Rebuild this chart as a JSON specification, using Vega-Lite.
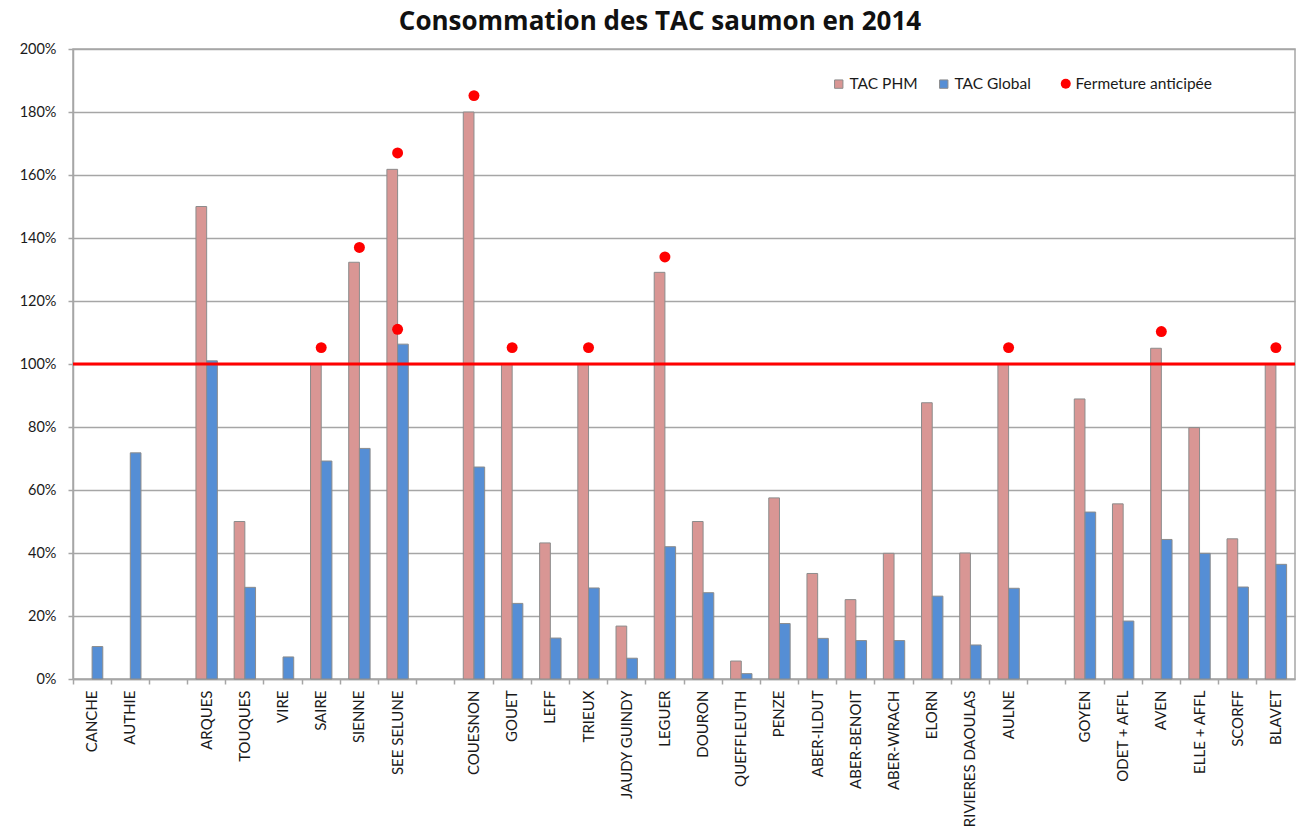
{
  "$schema": "https://vega.github.io/schema/vega-lite/v6.json",
  "width": 1222,
  "height": 630,
  "autosize": {"type": "none"},
  "padding": {"left": 73, "top": 49, "right": 7, "bottom": 152},
  "background": "white",
  "config": {
    "font": "Lato",
    "view": {"stroke": "#A6A6A6", "strokeWidth": 1.5}
  },
  "title": {
    "text": "Consommation des TAC saumon en 2014",
    "fontSize": 26,
    "fontWeight": "bold",
    "font": "Open Sans",
    "color": "#111111",
    "anchor": "middle",
    "frame": "group",
    "dx": -24,
    "offset": 6
  },
  "datasets": {
    "bars": [
      {"riviere": "CANCHE", "serie": "TAC Global", "valeur": 10.3},
      {"riviere": "AUTHIE", "serie": "TAC Global", "valeur": 71.8},
      {"riviere": "ARQUES", "serie": "TAC PHM", "valeur": 150},
      {"riviere": "ARQUES", "serie": "TAC Global", "valeur": 101},
      {"riviere": "TOUQUES", "serie": "TAC PHM", "valeur": 50},
      {"riviere": "TOUQUES", "serie": "TAC Global", "valeur": 29.1},
      {"riviere": "VIRE", "serie": "TAC Global", "valeur": 7},
      {"riviere": "SAIRE", "serie": "TAC PHM", "valeur": 100},
      {"riviere": "SAIRE", "serie": "TAC Global", "valeur": 69.2},
      {"riviere": "SIENNE", "serie": "TAC PHM", "valeur": 132.3},
      {"riviere": "SIENNE", "serie": "TAC Global", "valeur": 73.2},
      {"riviere": "SEE SELUNE", "serie": "TAC PHM", "valeur": 161.8},
      {"riviere": "SEE SELUNE", "serie": "TAC Global", "valeur": 106.3},
      {"riviere": "COUESNON", "serie": "TAC PHM", "valeur": 180},
      {"riviere": "COUESNON", "serie": "TAC Global", "valeur": 67.3},
      {"riviere": "GOUET", "serie": "TAC PHM", "valeur": 100},
      {"riviere": "GOUET", "serie": "TAC Global", "valeur": 24},
      {"riviere": "LEFF", "serie": "TAC PHM", "valeur": 43.2},
      {"riviere": "LEFF", "serie": "TAC Global", "valeur": 13},
      {"riviere": "TRIEUX", "serie": "TAC PHM", "valeur": 100},
      {"riviere": "TRIEUX", "serie": "TAC Global", "valeur": 28.9},
      {"riviere": "JAUDY GUINDY", "serie": "TAC PHM", "valeur": 16.8},
      {"riviere": "JAUDY GUINDY", "serie": "TAC Global", "valeur": 6.6},
      {"riviere": "LEGUER", "serie": "TAC PHM", "valeur": 129.1},
      {"riviere": "LEGUER", "serie": "TAC Global", "valeur": 42},
      {"riviere": "DOURON", "serie": "TAC PHM", "valeur": 50},
      {"riviere": "DOURON", "serie": "TAC Global", "valeur": 27.4},
      {"riviere": "QUEFFLEUTH", "serie": "TAC PHM", "valeur": 5.7},
      {"riviere": "QUEFFLEUTH", "serie": "TAC Global", "valeur": 1.7},
      {"riviere": "PENZE", "serie": "TAC PHM", "valeur": 57.5},
      {"riviere": "PENZE", "serie": "TAC Global", "valeur": 17.6},
      {"riviere": "ABER-ILDUT", "serie": "TAC PHM", "valeur": 33.5},
      {"riviere": "ABER-ILDUT", "serie": "TAC Global", "valeur": 12.9},
      {"riviere": "ABER-BENOIT", "serie": "TAC PHM", "valeur": 25.2},
      {"riviere": "ABER-BENOIT", "serie": "TAC Global", "valeur": 12.2},
      {"riviere": "ABER-WRACH", "serie": "TAC PHM", "valeur": 39.9},
      {"riviere": "ABER-WRACH", "serie": "TAC Global", "valeur": 12.2},
      {"riviere": "ELORN", "serie": "TAC PHM", "valeur": 87.7},
      {"riviere": "ELORN", "serie": "TAC Global", "valeur": 26.3},
      {"riviere": "RIVIERES DAOULAS", "serie": "TAC PHM", "valeur": 40},
      {"riviere": "RIVIERES DAOULAS", "serie": "TAC Global", "valeur": 10.8},
      {"riviere": "AULNE", "serie": "TAC PHM", "valeur": 100},
      {"riviere": "AULNE", "serie": "TAC Global", "valeur": 28.8},
      {"riviere": "GOYEN", "serie": "TAC PHM", "valeur": 88.9},
      {"riviere": "GOYEN", "serie": "TAC Global", "valeur": 53},
      {"riviere": "ODET + AFFL", "serie": "TAC PHM", "valeur": 55.6},
      {"riviere": "ODET + AFFL", "serie": "TAC Global", "valeur": 18.4},
      {"riviere": "AVEN", "serie": "TAC PHM", "valeur": 105},
      {"riviere": "AVEN", "serie": "TAC Global", "valeur": 44.3},
      {"riviere": "ELLE + AFFL", "serie": "TAC PHM", "valeur": 79.8},
      {"riviere": "ELLE + AFFL", "serie": "TAC Global", "valeur": 39.9},
      {"riviere": "SCORFF", "serie": "TAC PHM", "valeur": 44.5},
      {"riviere": "SCORFF", "serie": "TAC Global", "valeur": 29.2},
      {"riviere": "BLAVET", "serie": "TAC PHM", "valeur": 100},
      {"riviere": "BLAVET", "serie": "TAC Global", "valeur": 36.4}
    ],
    "fermetures": [
      {"riviere": "SAIRE", "serie": "Fermeture anticipée", "valeur": 105.2},
      {"riviere": "SIENNE", "serie": "Fermeture anticipée", "valeur": 137},
      {"riviere": "SEE SELUNE", "serie": "Fermeture anticipée", "valeur": 167},
      {"riviere": "SEE SELUNE", "serie": "Fermeture anticipée", "valeur": 111},
      {"riviere": "COUESNON", "serie": "Fermeture anticipée", "valeur": 185.2},
      {"riviere": "GOUET", "serie": "Fermeture anticipée", "valeur": 105.2},
      {"riviere": "TRIEUX", "serie": "Fermeture anticipée", "valeur": 105.2},
      {"riviere": "LEGUER", "serie": "Fermeture anticipée", "valeur": 134},
      {"riviere": "AULNE", "serie": "Fermeture anticipée", "valeur": 105.2},
      {"riviere": "AVEN", "serie": "Fermeture anticipée", "valeur": 110.3},
      {"riviere": "BLAVET", "serie": "Fermeture anticipée", "valeur": 105.2}
    ]
  },
  "layer": [
    {
      "data": {"name": "bars"},
      "mark": {"type": "bar", "stroke": "#8C8C8C", "strokeWidth": 1},
      "encoding": {
        "x": {
          "field": "riviere",
          "type": "nominal",
          "scale": {
            "domain": ["CANCHE", "AUTHIE", "_1", "ARQUES", "TOUQUES", "VIRE", "SAIRE", "SIENNE", "SEE SELUNE", "_2", "COUESNON", "GOUET", "LEFF", "TRIEUX", "JAUDY GUINDY", "LEGUER", "DOURON", "QUEFFLEUTH", "PENZE", "ABER-ILDUT", "ABER-BENOIT", "ABER-WRACH", "ELORN", "RIVIERES DAOULAS", "AULNE", "_3", "GOYEN", "ODET + AFFL", "AVEN", "ELLE + AFFL", "SCORFF", "BLAVET"],
            "paddingInner": 0,
            "paddingOuter": 0
          },
          "axis": {
            "title": null,
            "labelAngle": -90,
            "labelAlign": "right",
            "labelBaseline": "middle",
            "labelFontSize": 15,
            "labelColor": "#1a1a1a",
            "labelPadding": 6,
            "labelExpr": "indexof(datum.value, '_') == 0 ? '' : datum.value",
            "bandPosition": 0,
            "tickSize": 5,
            "tickColor": "#A6A6A6",
            "tickWidth": 1.5,
            "domainColor": "#A6A6A6",
            "domainWidth": 1.5,
            "grid": false
          }
        },
        "xOffset": {
          "field": "serie",
          "type": "nominal",
          "scale": {"domain": ["TAC PHM", "TAC Global"], "paddingInner": 0, "paddingOuter": 0.785}
        },
        "y": {
          "field": "valeur",
          "type": "quantitative",
          "scale": {"domain": [0, 200], "nice": false},
          "axis": {
            "title": null,
            "values": [0, 20, 40, 60, 80, 100, 120, 140, 160, 180, 200],
            "labelExpr": "datum.value + '%'",
            "labelFontSize": 14.5,
            "labelColor": "#1a1a1a",
            "labelPadding": 12,
            "tickSize": 5,
            "tickColor": "#A6A6A6",
            "tickWidth": 1.5,
            "gridColor": "#A6A6A6",
            "gridWidth": 1.5,
            "domainColor": "#A6A6A6",
            "domainWidth": 1.5
          }
        },
        "color": {
          "field": "serie",
          "type": "nominal",
          "scale": {
            "domain": ["TAC PHM", "TAC Global"],
            "range": ["#D99694", "#558ED5"]
          },
          "legend": {
            "title": null,
            "orient": "none",
            "direction": "horizontal",
            "legendX": 758,
            "legendY": 27,
            "labelFontSize": 15.5,
            "labelColor": "#1a1a1a",
            "columnPadding": 18,
            "symbolType": "square",
            "symbolSize": 70,
            "labelOffset": 3,
            "symbolStrokeColor": "#8C8C8C",
            "symbolStrokeWidth": 1
          }
        }
      }
    },
    {
      "data": {"name": "fermetures"},
      "mark": {"type": "point", "filled": true, "size": 120, "opacity": 1, "shape": "circle"},
      "encoding": {
        "x": {"field": "riviere", "type": "nominal"},
        "y": {"field": "valeur", "type": "quantitative"},
        "fill": {
          "field": "serie",
          "type": "nominal",
          "scale": {"domain": ["Fermeture anticipée"], "range": ["#FF0000"]},
          "legend": {
            "title": null,
            "orient": "none",
            "direction": "horizontal",
            "legendX": 985,
            "legendY": 27,
            "labelFontSize": 15.5,
            "labelColor": "#1a1a1a",
            "symbolType": "circle",
            "symbolSize": 100,
            "labelOffset": 2,
            "symbolStrokeWidth": 0
          }
        }
      }
    },
    {
      "data": {"values": [{"seuil": 100}]},
      "mark": {"type": "rule", "color": "#FF0000", "strokeWidth": 3},
      "encoding": {"y": {"field": "seuil", "type": "quantitative"}}
    }
  ]
}
